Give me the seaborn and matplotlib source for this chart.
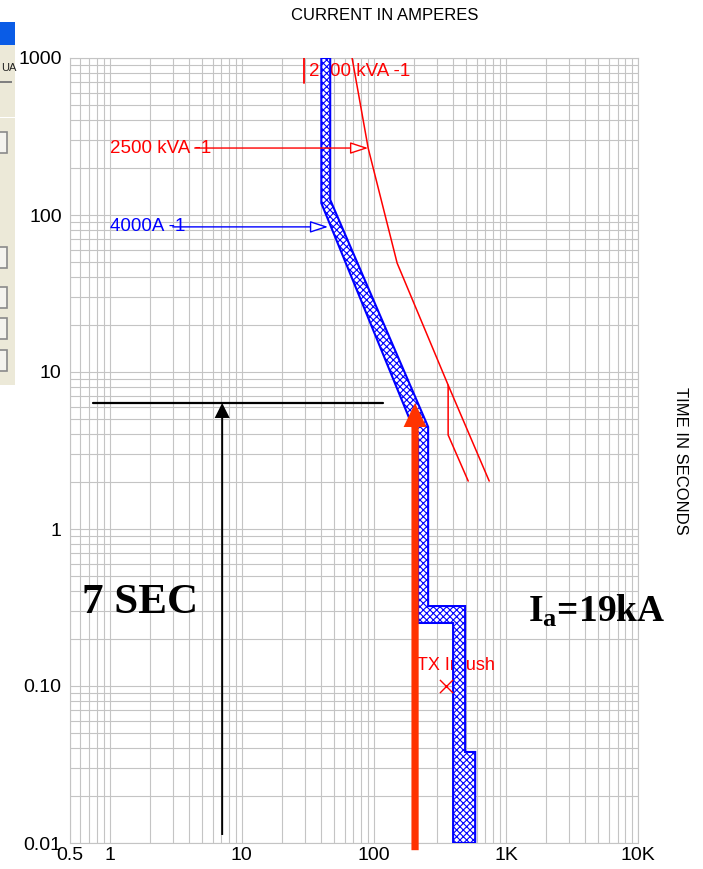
import matplotlib
matplotlib.use("Agg")
import matplotlib.pyplot as plt
import seaborn as sns
import pandas as pd
from matplotlib.ticker import FixedLocator, FixedFormatter, LogLocator, NullFormatter
from matplotlib.patches import Rectangle

# ---------------- data ----------------
x_ticks = [0.5, 1, 10, 100, 1000, 10000]
x_tick_labels = ["0.5", "1", "10", "100", "1K", "10K"]
y_ticks = [0.01, 0.1, 1, 10, 100, 1000]
y_tick_labels = ["0.01", "0.10", "1", "10", "100", "1000"]

# 4000A-1 device band (max clearing / min melting)
band_max_amps = [46.7, 46.7, 257.6, 257.6, 491, 491, 585, 585]
band_max_sec = [1000, 125, 4.47, 0.323, 0.323, 0.038, 0.038, 0.01]
band_min_amps = [40, 40, 216, 216, 398, 398]
band_min_sec = [1000, 119, 3.7, 0.252, 0.252, 0.01]

# 2500 kVA transformer damage curve
damage_amps = [68.4, 90.5, 150, 365, 747]
damage_sec = [1000, 267, 49.4, 8.26, 2.02]
damage2_amps = [365, 365, 518]
damage2_sec = [8.26, 3.97, 2.02]

# transformer FLA marker
fla_amps = [29.6, 29.6]
fla_sec = [693, 1000]

# inrush point
inrush_amps = [353]
inrush_sec = [0.1]

# 7 sec reference line / arrow
ref_line_amps = [0.75, 117]
ref_line_sec = [6.35, 6.35]
ref_arrow_amps = 7.1
ref_arrow_from = 0.01125
ref_arrow_to = 6.35

# fault current arrow (Ia = 19kA)
fault_amps = 205
fault_from = 0.009
fault_to = 6.35

# ---------------- style ----------------
sns.set_style("white")
plt.rcParams["font.family"] = ["Liberation Sans", "DejaVu Sans"]
plt.rcParams["hatch.linewidth"] = 0.8
plt.rcParams["text.color"] = "black"
plt.rcParams["xtick.color"] = "black"
plt.rcParams["ytick.color"] = "black"
plt.rcParams["mathtext.fontset"] = "custom"
plt.rcParams["mathtext.rm"] = "Liberation Serif"
plt.rcParams["mathtext.bf"] = "Liberation Serif:bold"

W, H = 703, 869
fig = plt.figure(figsize=(W / 100, H / 100), dpi=100)


def fx(px):
    return px / W


def fy(py):
    return 1 - py / H


# ---- screenshot fragment on the left ----
fig.patches.append(Rectangle((fx(0), fy(385)), fx(15), 340 / H, transform=fig.transFigure,
                             facecolor="#ece9d8", edgecolor="none", zorder=0))
fig.patches.append(Rectangle((fx(0), fy(45)), fx(15), 23 / H, transform=fig.transFigure,
                             facecolor="#0a5ce6", edgecolor="none", zorder=1))
fig.patches.append(Rectangle((fx(0), fy(83)), fx(12), 1.5 / H, transform=fig.transFigure,
                             facecolor="#808080", edgecolor="none", zorder=1))
fig.patches.append(Rectangle((fx(0), fy(118)), fx(15), 1 / H, transform=fig.transFigure,
                             facecolor="#ffffff", edgecolor="none", zorder=1))
for top in [132, 247, 287, 318, 350]:
    fig.patches.append(Rectangle((fx(-8), fy(top + 21)), fx(15), 21 / H, transform=fig.transFigure,
                                 facecolor="#f4f3ee", edgecolor="#8a8a8a", lw=1.2, zorder=2))
fig.text(fx(1), fy(68), "UA", ha="left", va="center", fontsize=8, color="#222222")

# ---- axes ----
ax = fig.add_axes([fx(70), 26 / H, 568 / W, 785 / H])
ax.set_xscale("log")
ax.set_yscale("log")
ax.set_xlim(0.5, 10000)
ax.set_ylim(0.01, 1000)

ax.xaxis.set_major_locator(FixedLocator(x_ticks))
ax.xaxis.set_major_formatter(FixedFormatter(x_tick_labels))
ax.yaxis.set_major_locator(FixedLocator(y_ticks))
ax.yaxis.set_major_formatter(FixedFormatter(y_tick_labels))
ax.xaxis.set_minor_locator(LogLocator(base=10, subs=range(2, 10), numticks=50))
ax.yaxis.set_minor_locator(LogLocator(base=10, subs=range(2, 10), numticks=50))
ax.xaxis.set_minor_formatter(NullFormatter())
ax.yaxis.set_minor_formatter(NullFormatter())
ax.tick_params(which="both", length=0)
ax.tick_params(axis="y", labelsize=14, pad=6)
ax.tick_params(axis="x", labelsize=14, pad=3)
ax.grid(which="both", color="#c4c4c4", lw=0.8)
ax.set_axisbelow(True)
for s in ax.spines.values():
    s.set_color("#c4c4c4")
    s.set_linewidth(0.8)

# band
band_x = band_max_amps + band_min_amps[::-1]
band_y = band_max_sec + band_min_sec[::-1]
ax.fill(band_x, band_y, facecolor="white", edgecolor="#0000ff", hatch="xxxxx", lw=1.5, zorder=4)

# damage curves
sns.lineplot(x=damage_amps, y=damage_sec, ax=ax, color="#ff0000", lw=1.1, sort=False,
             estimator=None, zorder=5)
sns.lineplot(x=damage2_amps, y=damage2_sec, ax=ax, color="#ff0000", lw=1.1, sort=False,
             estimator=None, zorder=5)
sns.lineplot(x=fla_amps, y=fla_sec, ax=ax, color="#ff0000", lw=1.3, sort=False,
             estimator=None, zorder=5)

# reference line
sns.lineplot(x=ref_line_amps, y=ref_line_sec, ax=ax, color="black", lw=1.6, sort=False,
             estimator=None, zorder=6)

# inrush point
sns.scatterplot(x=inrush_amps, y=inrush_sec, ax=ax, marker="x", color="#ff0000", s=90,
                linewidth=1.0, zorder=6)

# labels with open arrows
ax.text(32.4, 815, "2500 kVA -1", color="#ff0000", fontsize=13.5, va="center", ha="left", zorder=3)
ax.text(1.0, 267, "2500 kVA -1", color="#ff0000", fontsize=13.5, va="center", ha="left", zorder=3)
ax.annotate("", xy=(90.5, 267), xytext=(4.4, 267), zorder=5,
            arrowprops=dict(arrowstyle="-|>,head_length=0.55,head_width=0.18", mutation_scale=20,
                            color="#ff0000", fc="white", lw=1.0, shrinkA=0, shrinkB=0))
ax.text(1.0, 84, "4000A -1", color="#0000ff", fontsize=13.5, va="center", ha="left", zorder=3)
ax.annotate("", xy=(45, 84), xytext=(3.0, 84), zorder=5,
            arrowprops=dict(arrowstyle="-|>,head_length=0.55,head_width=0.18", mutation_scale=20,
                            color="#0000ff", fc="white", lw=1.0, shrinkA=0, shrinkB=0))
ax.text(212, 0.136, "TX Inrush", color="#ff0000", fontsize=13, va="center", ha="left", zorder=3)

# black 7 sec arrow
ax.annotate("", xy=(ref_arrow_amps, ref_arrow_to), xytext=(ref_arrow_amps, ref_arrow_from),
            zorder=6, annotation_clip=False,
            arrowprops=dict(width=1.4, headwidth=10.8, headlength=10.8, shrink=0,
                            facecolor="black", edgecolor="none", lw=0))
# red fault arrow
ax.annotate("", xy=(fault_amps, fault_to), xytext=(fault_amps, fault_from),
            zorder=7, annotation_clip=False,
            arrowprops=dict(width=5.2, headwidth=16.5, headlength=17.3, shrink=0,
                            facecolor="#ff3300", edgecolor="none", lw=0))

ax.text(0.617, 0.292, "7 SEC", fontsize=31, fontweight="bold", family="Liberation Serif",
        color="black", va="baseline", ha="left", zorder=6)
ax.text(1474, 0.256, r"$\mathbf{I_a}$=19kA", fontsize=27, fontweight="bold",
        family="Liberation Serif", color="black", va="baseline", ha="left", zorder=6)

fig.text(fx(385), fy(15), "CURRENT IN AMPERES", fontsize=12, ha="center", va="center")
fig.text(fx(681), fy(461), "TIME IN SECONDS", fontsize=12, ha="center", va="center",
         rotation=-90)

fig.savefig("out.png", dpi=100)
